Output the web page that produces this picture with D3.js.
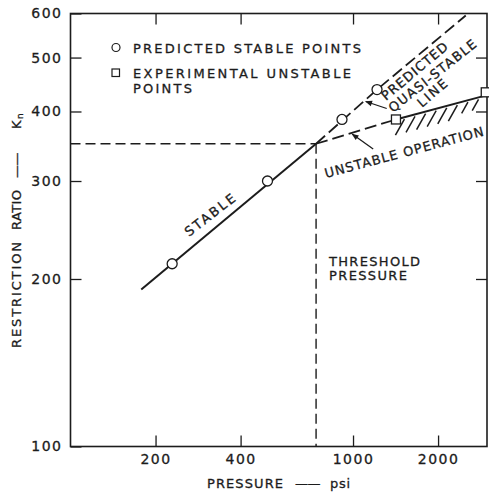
<!DOCTYPE html>
<html><head><meta charset="utf-8">
<script src="https://cdn.jsdelivr.net/npm/d3@7"></script>
<style>
body{margin:0;background:#fff}
svg text{font-family:"DejaVu Sans",sans-serif;fill:#1c1c1c;stroke:#1c1c1c;stroke-width:0.3px}
</style></head><body>
<svg id="chart" width="489" height="494"></svg>
<script>
// Restriction ratio vs supply pressure (log-log)
const xTicks = [200, 400, 1000, 2000];
const yTicks = [100, 200, 300, 400, 500, 600];
const xDomain = [100, 2980];
const yDomain = [100, 600];

// predicted stable points (psi, Kn)
const stablePressure = [229, 498, 914, 1216];
const stableRatio    = [213, 300, 387, 438];
// experimental unstable points (psi, Kn)
const unstablePressure = [1419, 2950];
const unstableRatio    = [387, 433];

// threshold pressure / ratio
const thresholdPressure = 740;
const thresholdRatio = 350;

// curves as [pressure, Kn]
const stableCurve      = [[178, 191.5], [740, 350]];
const quasiStableCurve = [[740, 350], [1216, 438], [2506, 595]];
const unstableDashed   = [[740, 350], [1419, 387]];
const unstableSolid    = [[1419, 387], [2980, 428]];

const svg = d3.select("#chart");
const ink = "#1c1c1c";
const plotLeft = 70.5, plotRight = 487, plotTop = 13.5, plotBottom = 446.5;

const x = d3.scaleLog().domain(xDomain).range([plotLeft, plotRight]);
const y = d3.scaleLog().domain(yDomain).range([plotBottom, plotTop]);

// frame
svg.append("rect").attr("x", plotLeft).attr("y", plotTop)
  .attr("width", plotRight - plotLeft).attr("height", plotBottom - plotTop)
  .attr("fill", "none").attr("stroke", ink).attr("stroke-width", 1.6);

function styleAxis(g) {
  g.select(".domain").remove();
  g.selectAll("line").attr("stroke", ink).attr("stroke-width", 1.3);
  g.selectAll("text").attr("fill", ink).style("font-size", "14px").style("letter-spacing", "1.5px");
}

svg.append("g").attr("transform", `translate(0,${plotBottom})`)
  .call(d3.axisBottom(x).tickValues(xTicks).tickFormat(d3.format("d")).tickSize(-11).tickPadding(8))
  .call(styleAxis);
svg.append("g").attr("transform", `translate(0,${plotTop})`)
  .call(d3.axisTop(x).tickValues(xTicks).tickFormat("").tickSize(-11))
  .call(styleAxis);
svg.append("g").attr("transform", `translate(${plotLeft},0)`)
  .call(d3.axisLeft(y).tickValues(yTicks).tickFormat(d3.format("d")).tickSize(-11).tickPadding(8))
  .call(styleAxis);
svg.append("g").attr("transform", `translate(${plotRight},0)`)
  .call(d3.axisRight(y).tickValues(yTicks.slice(1, -1)).tickFormat("").tickSize(-11))
  .call(styleAxis);

// text helper: fixed run length so the lettering keeps its spacing
function label(tx, ty, rot, str, len, size = 13) {
  return svg.append("text")
    .attr("transform", `translate(${tx},${ty}) rotate(${rot})`)
    .attr("textLength", len).attr("lengthAdjust", "spacing")
    .style("font-size", size + "px").text(str);
}
// title made of runs: [text, start, length]; a null length keeps natural width
function title(tx, ty, rot, runs) {
  const t = svg.append("text").attr("transform", `translate(${tx},${ty}) rotate(${rot})`)
    .style("font-size", "13px");
  runs.forEach(([s, at, len]) => {
    const sp = t.append("tspan").attr("x", at).attr("y", 0).text(s);
    if (len) sp.attr("textLength", len).attr("lengthAdjust", "spacing");
    else sp.style("letter-spacing", "-0.5px");
  });
  return t;
}

// axis titles
title(207, 488, 0, [["PRESSURE", 0, 76], ["——", 88, null], ["psi", 123, 20]]);
const yl = title(21, 348, -90, [
  ["RESTRICTION", 0, 106], ["RATIO", 118, 40], ["——", 170, null], ["K", 219, 9]
]);
yl.append("tspan").attr("x", 229).attr("y", 2).style("font-size", "9px").text("n");

const line = d3.line().x(d => x(d[0])).y(d => y(d[1]));
const dash = "10,5";

// threshold guides
svg.append("path").datum([[xDomain[0], thresholdRatio], [thresholdPressure, thresholdRatio]])
  .attr("d", line).attr("fill", "none").attr("stroke", ink).attr("stroke-width", 1.4).attr("stroke-dasharray", dash);
svg.append("path").datum([[thresholdPressure, thresholdRatio], [thresholdPressure, yDomain[0]]])
  .attr("d", line).attr("fill", "none").attr("stroke", ink).attr("stroke-width", 1.4).attr("stroke-dasharray", dash);

// curves
svg.append("path").datum(stableCurve).attr("d", line)
  .attr("fill", "none").attr("stroke", ink).attr("stroke-width", 2);
svg.append("path").datum(quasiStableCurve).attr("d", line)
  .attr("fill", "none").attr("stroke", ink).attr("stroke-width", 1.8).attr("stroke-dasharray", "12,5");
svg.append("path").datum(unstableDashed).attr("d", line)
  .attr("fill", "none").attr("stroke", ink).attr("stroke-width", 1.8).attr("stroke-dasharray", "12,5");
svg.append("path").datum(unstableSolid).attr("d", line)
  .attr("fill", "none").attr("stroke", ink).attr("stroke-width", 2);

// hatching below the unstable boundary
{
  const p0 = [x(unstableSolid[0][0]), y(unstableSolid[0][1])];
  const p1 = [x(unstableSolid[1][0]), y(unstableSolid[1][1])];
  const n = 8;
  for (let i = 0; i < n; i++) {
    const t = (i + 0.8) / (n + 0.6);
    const px = p0[0] + t * (p1[0] - p0[0]);
    const py = p0[1] + t * (p1[1] - p0[1]);
    const len = i < n - 2 ? 1 : 0.7;
    svg.append("line").attr("x1", px).attr("y1", py + 2)
      .attr("x2", px - 9 * len).attr("y2", py + 2 + 16 * len)
      .attr("stroke", ink).attr("stroke-width", 1.5);
  }
}

// arrows
svg.append("defs").append("marker").attr("id", "head")
  .attr("viewBox", "0 0 10 10").attr("refX", 9).attr("refY", 5)
  .attr("markerWidth", 9).attr("markerHeight", 7).attr("orient", "auto")
  .attr("markerUnits", "userSpaceOnUse")
  .append("path").attr("d", "M0,1 L10,5 L0,9 Z").attr("fill", ink);
function logInterp(curve, p) {
  for (let i = 0; i < curve.length - 1; i++) {
    const [a, b] = [curve[i], curve[i + 1]];
    if (p >= a[0] && p <= b[0]) {
      const t = (Math.log(p) - Math.log(a[0])) / (Math.log(b[0]) - Math.log(a[0]));
      return Math.exp(Math.log(a[1]) + t * (Math.log(b[1]) - Math.log(a[1])));
    }
  }
  return curve[curve.length - 1][1];
}
function arrow(curve, p, dx, dy) {
  const tx = x(p), ty = y(logInterp(curve, p));
  svg.append("line").attr("x1", tx + dx).attr("y1", ty + dy).attr("x2", tx + 1).attr("y2", ty + 1)
    .attr("stroke", ink).attr("stroke-width", 1.3).attr("marker-end", "url(#head)");
}
arrow(quasiStableCurve, 1100, 22, 8);
arrow(unstableDashed, 985, 22, 16);

// points
svg.append("g").selectAll("circle").data(stablePressure).join("circle")
  .attr("cx", d => x(d)).attr("cy", (d, i) => y(stableRatio[i])).attr("r", 5)
  .attr("fill", "#fff").attr("stroke", ink).attr("stroke-width", 1.3);
svg.append("g").selectAll("rect").data(unstablePressure).join("rect")
  .attr("x", d => x(d) - 4.5).attr("y", (d, i) => y(unstableRatio[i]) - 4.5)
  .attr("width", 9).attr("height", 9)
  .attr("fill", "#fff").attr("stroke", ink).attr("stroke-width", 1.3);

// legend
svg.append("circle").attr("cx", 116).attr("cy", 47.5).attr("r", 4)
  .attr("fill", "#fff").attr("stroke", ink).attr("stroke-width", 1.2);
svg.append("rect").attr("x", 112).attr("y", 69).attr("width", 7.5).attr("height", 7.5)
  .attr("fill", "#fff").attr("stroke", ink).attr("stroke-width", 1.2);
label(133, 52.5, 0, "PREDICTED STABLE POINTS", 228);
label(133, 77.5, 0, "EXPERIMENTAL UNSTABLE", 218);
label(133, 93, 0, "POINTS", 59);

// curve labels, aligned with their lines
function angleOf(curve) {
  const a = curve[0], b = curve[curve.length - 1];
  return Math.atan2(y(b[1]) - y(a[1]), x(b[0]) - x(a[0])) * 180 / Math.PI;
}
label(189, 237, angleOf(stableCurve) + 2, "STABLE", 60);

label(386, 101, -40, "PREDICTED", 82);
label(393, 113, -38.5, "QUASI-STABLE", 108);
label(422, 108, -41, "LINE", 35);

label(326, 178, -15, "UNSTABLE OPERATION", 164);

label(329, 266, 0, "THRESHOLD", 91);
label(329, 280, 0, "PRESSURE", 78);
</script>
</body></html>
